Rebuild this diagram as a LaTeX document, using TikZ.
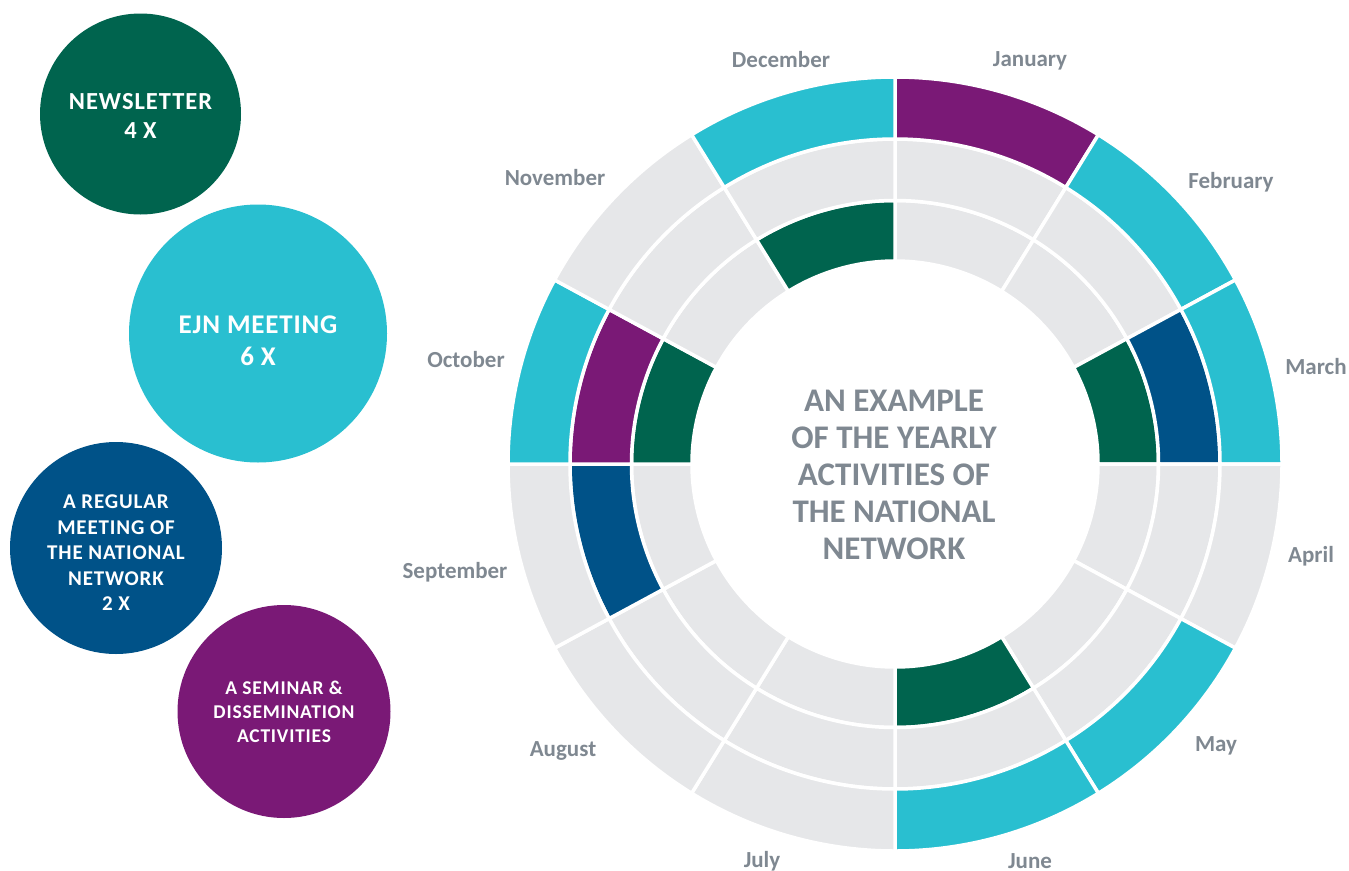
\documentclass[tikz,border=0pt]{standalone}
\usepackage{fontspec}
\setmainfont{Carlito}
\definecolor{cgreen}{HTML}{00644E}
\definecolor{cteal}{HTML}{29BFD0}
\definecolor{cblue}{HTML}{005288}
\definecolor{cpurple}{HTML}{7A1976}
\definecolor{cgray}{HTML}{E6E7E9}
\definecolor{ctext}{HTML}{7F8891}
\tikzset{
  bubble/.style={circle, inner sep=0pt, text=white, align=center, font=\bfseries},
  month/.style={text=ctext, font=\bfseries\fontsize{23}{26}\selectfont},
  seg/.style={draw=white, line width=3.5pt},
}
\begin{document}
\begin{tikzpicture}[x=1pt,y=-1pt]
\useasboundingbox (0,0) rectangle (1349,870);
% legend bubbles
\fill[cgreen] (140.5,114) circle[radius=100.5];
\fill[cteal] (258,333.5) circle[radius=129];
\fill[cblue] (116,548) circle[radius=106];
\fill[cpurple] (284,711.5) circle[radius=106.5];
\node[bubble, font=\bfseries\fontsize{24.5}{29}\selectfont\addfontfeature{LetterSpace=4}] (news) at (140.5,116) {NEWSLETTER\\4 X};
\node[bubble, font=\bfseries\fontsize{27}{32}\selectfont\addfontfeature{LetterSpace=3}] (ejn) at (258,341) {EJN MEETING\\6 X};
\node[bubble, font=\bfseries\fontsize{21}{25.5}\selectfont\addfontfeature{LetterSpace=4}] (reg) at (116,553) {A REGULAR\\MEETING OF\\THE NATIONAL\\NETWORK\\2 X};
\node[bubble, font=\bfseries\fontsize{19.5}{24}\selectfont\addfontfeature{LetterSpace=4}] (sem) at (284,712) {A SEMINAR \&\\DISSEMINATION\\ACTIVITIES};
% ring
\begin{scope}[shift={(895,464)}, yscale=-1]
  \foreach \ci/\cm/\co [count=\m] in {
      cgray/cgray/cpurple, cgray/cgray/cteal, cgreen/cblue/cteal,
      cgray/cgray/cgray, cgray/cgray/cteal, cgreen/cgray/cteal,
      cgray/cgray/cgray, cgray/cgray/cgray, cgray/cblue/cgray,
      cgreen/cpurple/cteal, cgray/cgray/cgray, cgreen/cgray/cteal} {
    \pgfmathsetmacro\a{{90,58.3,28.4,0,-28.4,-58.3,-90,-121.7,-151.6,-180,-208.4,-238.3,-270}[\m-1]}
    \pgfmathsetmacro\b{{90,58.3,28.4,0,-28.4,-58.3,-90,-121.7,-151.6,-180,-208.4,-238.3,-270}[\m]}
    \path[seg, fill=\ci] (\a:203) arc[start angle=\a, end angle=\b, radius=203] -- (\b:263.5) arc[start angle=\b, end angle=\a, radius=263.5] -- cycle;
    \path[seg, fill=\cm] (\a:263.5) arc[start angle=\a, end angle=\b, radius=263.5] -- (\b:325) arc[start angle=\b, end angle=\a, radius=325] -- cycle;
    \path[seg, fill=\co] (\a:325) arc[start angle=\a, end angle=\b, radius=325] -- (\b:387) arc[start angle=\b, end angle=\a, radius=387] -- cycle;
  }
\end{scope}
\node[text=ctext, align=center, font=\bfseries\fontsize{33}{37}\selectfont] (title) at (894,475) {AN EXAMPLE\\OF THE YEARLY\\ACTIVITIES OF\\THE NATIONAL\\NETWORK};
% month labels
\node[month] (dec) at (781,60) {December};
\node[month] (jan) at (1030,61) {January};
\node[month] (feb) at (1231,182) {February};
\node[month] (mar) at (1316,367) {March};
\node[month] (apr) at (1311,556) {April};
\node[month] (may) at (1216,746) {May};
\node[month] (jun) at (1030,861) {June};
\node[month] (jul) at (762,861) {July};
\node[month] (aug) at (563,751) {August};
\node[month] (sep) at (455,572) {September};
\node[month] (oct) at (466,360) {October};
\node[month] (nov) at (555,178) {November};
\end{tikzpicture}
\end{document}
